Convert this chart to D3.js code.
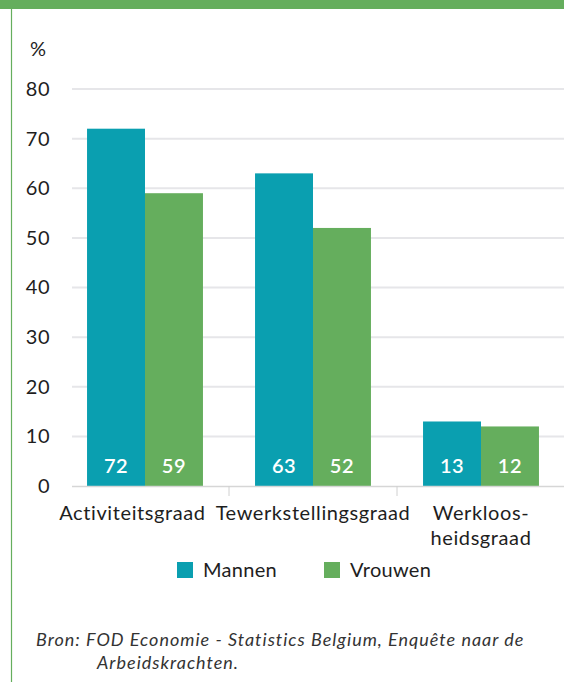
<!DOCTYPE html>
<html>
<head>
<meta charset="utf-8">
<script src="https://cdn.jsdelivr.net/npm/d3@7"></script>
<style>
  html, body { margin: 0; padding: 0; background: #fff; }
  svg { display: block; font-family: Lato, "Open Sans", sans-serif; }
</style>
</head>
<body>
<svg id="chart" width="564" height="682"></svg>
<script>
// Labour market rates by sex (%)
const categories = [["Activiteitsgraad"], ["Tewerkstellingsgraad"], ["Werkloos-", "heidsgraad"]];
const seriesNames = ["Mannen", "Vrouwen"];
const mannen = [72, 63, 13];
const vrouwen = [59, 52, 12];
const yTicks = [0, 10, 20, 30, 40, 50, 60, 70, 80];
const colors = ["#0a9fb0", "#65ae5d"];
const source = ["Bron: FOD Economie - Statistics Belgium, Enquête naar de", "Arbeidskrachten."];

const svg = d3.select("#chart");
const W = 564, H = 682;
const textColor = "#1e1e1e";

// Frame: green band on top, thin green rule on the left
svg.append("rect").attr("x", 0).attr("y", 0).attr("width", W).attr("height", 9).attr("fill", "#65ae5d");
svg.append("line").attr("x1", 11.5).attr("x2", 11.5).attr("y1", 9).attr("y2", H)
  .attr("stroke", "#65ae5d").attr("stroke-width", 1.2);

const catKeys = categories.map(c => c.join(" "));
const x = d3.scaleBand().domain(catKeys).range([61, 565]).paddingInner(0.31).paddingOuter(0.155);
const xs = d3.scaleBand().domain(seriesNames).range([0, x.bandwidth()]);
const y = d3.scaleLinear().domain([0, 80]).range([486, 89]);

// Gridlines
svg.append("g").selectAll("line").data(yTicks.filter(t => t > 0)).join("line")
  .attr("x1", 72).attr("x2", W)
  .attr("y1", d => y(d)).attr("y2", d => y(d))
  .attr("stroke", "#e6e6e9").attr("stroke-width", 2);

// Y axis labels
const yAxis = d3.axisLeft(y).tickValues(yTicks).tickSize(0).tickPadding(0);
const gy = svg.append("g").attr("transform", "translate(50,0)").call(yAxis);
gy.select(".domain").remove();
gy.selectAll("text").attr("font-size", 20).attr("fill", textColor)
  .attr("font-family", "Lato, sans-serif").attr("letter-spacing", 0.5);

svg.append("text").attr("x", 30).attr("y", 56).attr("font-size", 20).attr("fill", textColor).text("%");

// Bars
const rows = catKeys.map((k, i) => ({ key: k, values: [mannen[i], vrouwen[i]] }));
const groups = svg.append("g").selectAll("g").data(rows).join("g")
  .attr("transform", d => `translate(${x(d.key)},0)`);
groups.selectAll("rect").data(d => d.values.map((v, j) => ({ name: seriesNames[j], v, j }))).join("rect")
  .attr("x", d => xs(d.name)).attr("width", xs.bandwidth())
  .attr("y", d => y(d.v)).attr("height", d => y(0) - y(d.v))
  .attr("fill", d => colors[d.j]);
groups.selectAll("text.val").data(d => d.values.map((v, j) => ({ name: seriesNames[j], v, j }))).join("text")
  .attr("class", "val")
  .attr("x", d => xs(d.name) + xs.bandwidth() / 2).attr("y", y(0) - 13)
  .attr("text-anchor", "middle").attr("font-size", 20).attr("font-weight", 600)
  .attr("letter-spacing", 0.5).attr("fill", "#fff")
  .text(d => d3.format(".0f")(d.v));

// Baseline and category separators
const xAxis = d3.axisBottom(x).tickSize(0).tickFormat("");
const gx = svg.append("g").attr("transform", `translate(0,${y(0)})`).call(xAxis);
gx.select(".domain").attr("d", `M72,0.5H${W}`).attr("stroke", "#d6d6d6").attr("stroke-width", 1.5);
const step = x.step();
const seps = catKeys.slice(1).map(k => x(k) - (step - x.bandwidth()) / 2);
gx.selectAll("line.sep").data(seps).join("line").attr("class", "sep")
  .attr("x1", d => d).attr("x2", d => d).attr("y1", 0).attr("y2", 10)
  .attr("stroke", "#d0d0d0").attr("stroke-width", 1);

// Category labels (pushed apart when they would overlap)
const labels = svg.append("g").selectAll("text").data(categories).join("text")
  .attr("text-anchor", "middle").attr("font-size", 20).attr("letter-spacing", 0.6).attr("fill", textColor)
  .attr("x", (d, i) => x(catKeys[i]) + x.bandwidth() / 2).attr("y", 520);
labels.selectAll("tspan").data(d => d).join("tspan")
  .attr("x", function () { return this.parentNode.getAttribute("x"); })
  .attr("dy", (d, i) => i === 0 ? 0 : 25).text(d => d);
const nodes = labels.nodes();
for (let i = nodes.length - 2; i >= 0; i--) {
  const a = nodes[i].getBBox(), b = nodes[i + 1].getBBox();
  const overlap = a.x + a.width + 10 - b.x;
  if (overlap > 0) {
    const nx = +nodes[i].getAttribute("x") - overlap;
    d3.select(nodes[i]).attr("x", nx).selectAll("tspan").attr("x", nx);
  }
}

// Legend
const legendX = [177, 324];
const lg = svg.append("g").selectAll("g").data(seriesNames).join("g")
  .attr("transform", (d, i) => `translate(${legendX[i]},562)`);
lg.append("rect").attr("width", 16).attr("height", 16).attr("fill", (d, i) => colors[i]);
lg.append("text").attr("x", 26).attr("y", 15).attr("font-size", 20).attr("letter-spacing", 0.3)
  .attr("fill", textColor).text(d => d);

// Source note
svg.append("g").selectAll("text").data(source).join("text")
  .attr("x", (d, i) => i === 0 ? 36 : 97).attr("y", (d, i) => 646 + i * 23)
  .attr("font-size", 18).attr("font-style", "italic").attr("letter-spacing", 1)
  .attr("fill", "#333").text(d => d);
</script>
</body>
</html>
